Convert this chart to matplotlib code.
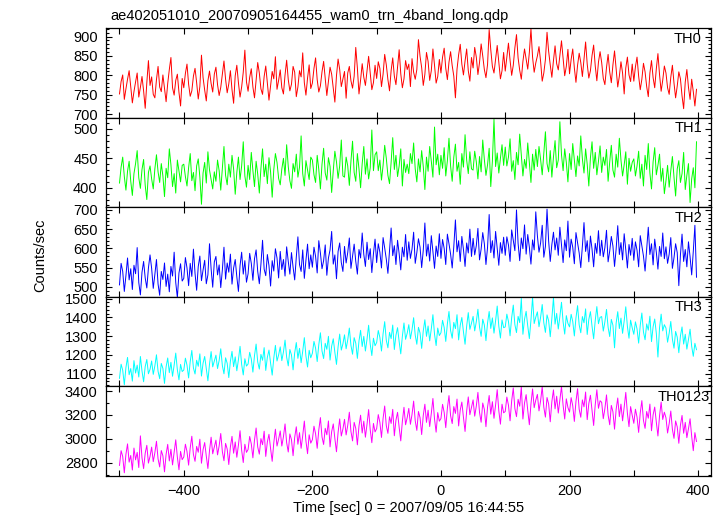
import numpy as np
import matplotlib
matplotlib.use("Agg")
import matplotlib.pyplot as plt
from matplotlib.ticker import MultipleLocator

plt.rcParams['font.family'] = ['Liberation Sans', 'DejaVu Sans']

# time bins [sec], 2.5 s wide
time = np.arange(-500, 400, 2.5)

# count rates (counts/sec), one row = 50 s
th0 = [752, 784, 801, 738, 765, 790, 812, 771, 729, 758, 783, 806, 744, 769, 797, 760, 715, 781, 838, 774,
       796, 751, 742, 789, 823, 770, 758, 801, 766, 732, 779, 815, 846, 768, 749, 787, 803, 756, 721, 792,
       768, 805, 829, 777, 746, 760, 798, 818, 781, 739, 771, 852, 794, 762, 734, 786, 811, 779, 757, 803,
       821, 776, 748, 769, 804, 837, 790, 755, 778, 812, 763, 728, 799, 826, 781, 744, 770, 808, 865, 783,
       759, 795, 817, 770, 742, 788, 833, 806, 765, 751, 797, 824, 779, 736, 772, 810, 791, 848, 764, 787,
       814, 768, 752, 801, 839, 789, 760, 777, 823, 808, 745, 770, 812, 796, 858, 781, 749, 793, 827, 766,
       780, 818, 845, 789, 757, 773, 809, 836, 792, 748, 784, 821, 803, 766, 731, 799, 842, 815, 771, 790,
       810, 741, 806, 823, 786, 767, 798, 872, 819, 752, 788, 830, 795, 774, 812, 849, 805, 763, 781, 826,
       792, 835, 818, 771, 803, 854, 827, 789, 760, 812, 845, 798, 776, 821, 866, 804, 768, 791, 838, 815,
       829, 771, 843, 808, 790, 815, 892, 849, 820, 774, 803, 859, 836, 787, 812, 868, 826, 780, 797, 841,
       806, 847, 870, 818, 789, 834, 861, 825, 798, 742, 816, 853, 880, 829, 801, 837, 868, 812, 785, 846,
       819, 872, 847, 802, 833, 881, 850, 815, 794, 828, 918, 866, 823, 806, 842, 877, 835, 791, 812, 859,
       811, 848, 883, 839, 800, 826, 871, 905, 845, 813, 790, 836, 868, 842, 816, 859, 920, 847, 808, 832,
       850, 874, 836, 785, 806, 841, 911, 862, 827, 795, 838, 876, 830, 814, 852, 889, 845, 799, 823, 867,
       804, 841, 868, 819, 782, 826, 857, 833, 797, 843, 886, 829, 793, 812, 851, 878, 824, 786, 834, 861,
       833, 792, 776, 820, 854, 809, 781, 827, 863, 815, 770, 798, 835, 806, 752, 819, 847, 801, 784, 829,
       785, 822, 847, 798, 763, 790, 831, 809, 771, 745, 806, 838, 794, 768, 817, 856, 802, 759, 788, 824,
       806, 768, 751, 795, 826, 780, 742, 772, 809, 791, 747, 714, 783, 815, 769, 738, 790, 758, 721, 764]

th1 = [408, 435, 452, 419, 396, 428, 445, 411, 387, 424, 441, 463, 417, 399, 431, 448, 404, 380, 426, 437,
       415, 398, 432, 456, 427, 409, 441, 420, 385, 433, 417, 466, 439, 402, 424, 391, 447, 429, 410, 438,
       440, 419, 403, 434, 458, 412, 426, 395, 437, 449, 418, 372, 425, 443, 408, 461, 430, 414, 398, 427,
       411, 447, 429, 396, 433, 470, 421, 405, 440, 418, 455, 432, 389, 426, 452, 414, 437, 478, 420, 401,
       438, 414, 460, 429, 402, 445, 423, 391, 433, 466, 419, 440, 407, 451, 427, 384, 431, 458, 443, 416,
       405, 432, 450, 421, 473, 436, 412, 399, 441, 427, 457, 418, 435, 488, 424, 403, 446, 430, 414, 452,
       447, 422, 409, 455, 431, 398, 440, 467, 425, 413, 451, 436, 392, 429, 462, 444, 416, 437, 481, 420,
       418, 452, 437, 404, 445, 479, 426, 411, 458, 432, 400, 441, 470, 423, 449, 415, 434, 498, 429, 456,
       461, 429, 447, 413, 438, 472, 450, 421, 407, 443, 485, 431, 455, 419, 437, 466, 403, 448, 426, 440,
       424, 458, 441, 476, 432, 410, 449, 427, 463, 436, 397, 452, 428, 470, 445, 418, 503, 439, 457, 422,
       455, 433, 468, 420, 446, 484, 437, 411, 452, 474, 428, 443, 406, 458, 435, 490, 447, 424, 461, 432,
       430, 462, 444, 415, 453, 427, 481, 448, 421, 439, 467, 402, 445, 516, 436, 459, 425, 450, 473, 438,
       469, 437, 452, 483, 428, 446, 414, 460, 439, 491, 455, 420, 448, 433, 476, 442, 409, 457, 430, 465,
       436, 470, 448, 422, 459, 495, 441, 427, 463, 418, 452, 480, 434, 447, 512, 456, 429, 466, 443, 410,
       458, 431, 475, 446, 419, 454, 437, 488, 449, 425, 466, 440, 403, 451, 478, 433, 460, 422, 445, 471,
       426, 452, 438, 465, 411, 444, 472, 430, 418, 457, 435, 484, 447, 420, 439, 461, 406, 450, 428, 443,
       449, 420, 437, 462, 416, 440, 403, 455, 431, 475, 425, 398, 444, 468, 422, 438, 457, 411, 433, 390,
       412, 438, 401, 429, 453, 418, 386, 432, 446, 409, 424, 460, 397, 421, 441, 375, 415, 434, 400, 478]

th2 = [505, 561, 540, 488, 529, 575, 518, 547, 493, 556, 534, 602, 511, 479, 538, 566, 523, 497, 549, 583,
       548, 496, 532, 571, 507, 478, 540, 519, 562, 501, 533, 487, 553, 528, 590, 511, 472, 536, 560, 515,
       522, 576, 549, 503, 561, 527, 598, 535, 491, 553, 580, 516, 544, 569, 508, 531, 612, 547, 499, 565,
       579, 531, 557, 498, 544, 603, 520, 562, 538, 585, 507, 549, 571, 526, 488, 555, 590, 533, 568, 512,
       534, 587, 561, 517, 573, 596, 540, 508, 559, 621, 546, 529, 584, 555, 502, 568, 541, 599, 575, 523,
       592, 545, 571, 528, 604, 566, 533, 589, 551, 518, 577, 630, 558, 540, 596, 522, 569, 611, 547, 583,
       551, 603, 579, 536, 620, 588, 547, 568, 609, 530, 575, 596, 644, 559, 583, 521, 592, 614, 563, 540,
       605, 562, 589, 627, 548, 580, 611, 566, 533, 597, 575, 640, 584, 553, 616, 571, 599, 537, 586, 624,
       563, 612, 590, 549, 628, 601, 572, 535, 594, 653, 581, 607, 558, 621, 586, 544, 603, 578, 636, 569,
       617, 574, 598, 642, 561, 589, 625, 603, 550, 595, 666, 580, 611, 567, 633, 592, 548, 606, 579, 638,
       574, 623, 600, 558, 637, 612, 585, 549, 605, 674, 591, 620, 566, 631, 597, 553, 614, 588, 650, 579,
       626, 583, 607, 652, 570, 598, 641, 612, 558, 603, 688, 589, 620, 575, 644, 601, 556, 615, 587, 629,
       582, 630, 609, 566, 648, 621, 594, 700, 613, 568, 627, 599, 661, 585, 636, 603, 559, 622, 596, 695,
       633, 590, 614, 660, 577, 605, 702, 619, 566, 610, 642, 596, 627, 582, 655, 608, 563, 622, 594, 671,
       577, 624, 603, 560, 641, 615, 588, 550, 606, 667, 592, 620, 565, 632, 598, 552, 613, 587, 646, 581,
       621, 578, 602, 647, 565, 593, 631, 606, 553, 598, 659, 584, 615, 570, 638, 596, 549, 610, 582, 626,
       569, 617, 595, 552, 633, 607, 580, 541, 598, 655, 584, 612, 557, 624, 590, 546, 605, 579, 640, 573,
       604, 561, 585, 628, 548, 576, 612, 589, 503, 583, 637, 566, 597, 552, 617, 578, 531, 592, 660, 525]

th3 = [1076, 1151, 1119, 1042, 1133, 1187, 1095, 1128, 1061, 1170, 1104, 1146, 1083, 1192, 1115, 1058, 1139, 1176, 1100, 1124,
       1168, 1097, 1142, 1201, 1113, 1074, 1155, 1129, 1049, 1137, 1184, 1106, 1161, 1087, 1146, 1210, 1121, 1068, 1150, 1112,
       1120, 1183, 1146, 1078, 1165, 1224, 1131, 1099, 1172, 1140, 1206, 1088, 1157, 1192, 1126, 1063, 1151, 1218, 1137, 1169,
       1199, 1128, 1171, 1233, 1144, 1100, 1185, 1156, 1080, 1167, 1219, 1138, 1190, 1116, 1175, 1246, 1150, 1094, 1180, 1141,
       1152, 1214, 1179, 1109, 1197, 1258, 1163, 1125, 1203, 1172, 1239, 1118, 1188, 1226, 1157, 1093, 1184, 1251, 1168, 1200,
       1243, 1170, 1216, 1279, 1188, 1142, 1229, 1200, 1121, 1211, 1266, 1182, 1235, 1159, 1220, 1292, 1194, 1136, 1225, 1185,
       1209, 1272, 1236, 1165, 1255, 1318, 1221, 1181, 1262, 1230, 1299, 1173, 1247, 1286, 1214, 1150, 1243, 1311, 1226, 1259,
       1307, 1233, 1280, 1343, 1251, 1204, 1292, 1263, 1182, 1274, 1331, 1245, 1299, 1221, 1284, 1358, 1257, 1197, 1289, 1249,
       1266, 1330, 1293, 1221, 1313, 1377, 1278, 1238, 1320, 1287, 1359, 1229, 1305, 1345, 1271, 1206, 1300, 1370, 1283, 1316,
       1361, 1286, 1334, 1398, 1305, 1257, 1347, 1317, 1235, 1328, 1387, 1299, 1354, 1275, 1339, 1414, 1311, 1250, 1343, 1303,
       1318, 1384, 1346, 1272, 1366, 1431, 1330, 1289, 1373, 1340, 1414, 1280, 1358, 1399, 1323, 1257, 1353, 1425, 1336, 1369,
       1405, 1328, 1377, 1443, 1348, 1299, 1390, 1359, 1276, 1370, 1431, 1341, 1397, 1316, 1382, 1460, 1353, 1290, 1386, 1345,
       1349, 1417, 1378, 1302, 1398, 1465, 1361, 1319, 1405, 1372, 1500, 1310, 1390, 1432, 1354, 1287, 1385, 1506, 1367, 1401,
       1429, 1350, 1400, 1468, 1371, 1320, 1413, 1382, 1297, 1393, 1505, 1364, 1421, 1338, 1405, 1480, 1376, 1311, 1409, 1368,
       1349, 1416, 1378, 1301, 1397, 1462, 1360, 1318, 1404, 1371, 1445, 1309, 1389, 1430, 1353, 1286, 1384, 1457, 1366, 1400,
       1404, 1327, 1376, 1442, 1347, 1298, 1389, 1358, 1238, 1369, 1430, 1340, 1396, 1315, 1381, 1456, 1352, 1289, 1385, 1344,
       1310, 1376, 1338, 1263, 1358, 1423, 1322, 1281, 1365, 1332, 1406, 1271, 1350, 1391, 1315, 1189, 1345, 1417, 1328, 1361,
       1343, 1268, 1316, 1378, 1284, 1236, 1325, 1295, 1212, 1301, 1349, 1258, 1310, 1231, 1282, 1337, 1246, 1193, 1262, 1228]

th0123 = [2778, 2901, 2852, 2716, 2870, 2958, 2805, 2861, 2739, 2923, 2824, 2887, 2760, 3025, 2841, 2751, 2880, 2946, 2797, 2853,
          2931, 2809, 2884, 2980, 2832, 2765, 2902, 2858, 2724, 2871, 2954, 2815, 2913, 2782, 2890, 2992, 2847, 2741, 2895, 2826,
          2848, 2955, 2893, 2780, 2924, 3022, 2869, 2812, 2937, 2888, 2997, 2796, 2910, 2969, 2856, 2752, 2901, 3014, 2875, 2932,
          2989, 2866, 2941, 3045, 2893, 2817, 2962, 2915, 2785, 2933, 3021, 2880, 2974, 2846, 2948, 3068, 2905, 2802, 2955, 2887,
          2911, 3020, 2958, 2841, 2990, 3091, 2932, 2872, 3002, 2951, 3064, 2853, 2975, 3038, 2919, 2812, 2967, 3081, 2940, 2997,
          3066, 2940, 3018, 3125, 2968, 2890, 3041, 2993, 2859, 3012, 3101, 2955, 3052, 2921, 3027, 3149, 2982, 2876, 3034, 2964,
          2993, 3106, 3043, 2921, 3075, 3178, 3016, 2953, 3088, 3034, 3150, 2933, 3060, 3125, 3002, 2892, 3053, 3167, 3024, 3082,
          3163, 3033, 3113, 3223, 3062, 2983, 3138, 3088, 2950, 3107, 3198, 3049, 3148, 3014, 3122, 3245, 3076, 2968, 3129, 3058,
          3086, 3203, 3138, 3012, 3171, 3275, 3110, 3046, 3185, 3129, 3247, 3026, 3156, 3222, 3096, 2983, 3148, 3264, 3118, 3178,
          3255, 3122, 3204, 3316, 3151, 3071, 3229, 3177, 3036, 3196, 3290, 3138, 3240, 3103, 3213, 3338, 3166, 3056, 3220, 3148,
          3170, 3289, 3222, 3094, 3257, 3362, 3194, 3128, 3270, 3213, 3333, 3108, 3241, 3308, 3180, 3062, 3232, 3351, 3202, 3263,
          3326, 3190, 3274, 3389, 3221, 3139, 3300, 3247, 3102, 3266, 3363, 3207, 3311, 3172, 3284, 3412, 3236, 3123, 3290, 3218,
          3229, 3350, 3282, 3151, 3318, 3426, 3253, 3186, 3331, 3273, 3436, 3166, 3301, 3370, 3239, 3118, 3292, 3418, 3261, 3324,
          3372, 3234, 3319, 3436, 3265, 3182, 3346, 3292, 3143, 3311, 3410, 3251, 3357, 3216, 3329, 3438, 3281, 3166, 3335, 3262,
          3224, 3345, 3277, 3146, 3313, 3420, 3248, 3181, 3326, 3268, 3392, 3161, 3296, 3365, 3234, 3112, 3287, 3411, 3256, 3319,
          3306, 3169, 3253, 3368, 3200, 3118, 3280, 3227, 3081, 3246, 3342, 3186, 3291, 3151, 3264, 3389, 3215, 3102, 3270, 3197,
          3130, 3248, 3182, 3054, 3217, 3320, 3154, 3088, 3229, 3173, 3291, 3068, 3201, 3266, 3140, 3024, 3192, 3308, 3162, 3223,
          3176, 3049, 3128, 3233, 3080, 3004, 3150, 3101, 2963, 3115, 3196, 3047, 3138, 3010, 3085, 3168, 3022, 2901, 3052, 2978]

bands = ['TH0', 'TH1', 'TH2', 'TH3', 'TH0123']
rates = [th0, th1, th2, th3, th0123]
colors = ['#ff0000', '#00ff00', '#0000ff', '#00ffff', '#ff00ff']
ylims = [(691, 922), (367, 519), (474, 707), (1033, 1509), (2689, 3439)]
major = [50, 50, 50, 100, 200]
minor = [10, 10, 10, 20, 100]

fig, axes = plt.subplots(5, 1, sharex=True, figsize=(7.24, 5.16), dpi=100)
fig.subplots_adjust(left=0.1464, right=0.982, top=0.9457, bottom=0.0775, hspace=0)

for i, ax in enumerate(axes):
    ax.plot(time, rates[i], color=colors[i], lw=0.7)
    ax.set_ylim(*ylims[i])
    ax.yaxis.set_major_locator(MultipleLocator(major[i]))
    ax.yaxis.set_minor_locator(MultipleLocator(minor[i]))
    ax.tick_params(which='both', direction='in', top=True, right=True, labelsize=10.5, pad=6)
    ax.tick_params(which='major', length=4.3, width=0.8)
    ax.tick_params(which='minor', length=2.2, width=0.8)
    for s in ax.spines.values():
        s.set_linewidth(0.9)
    xr = 0.998 if bands[i] == 'TH0123' else 0.985
    ax.text(xr, 0.96, bands[i], transform=ax.transAxes, ha='right', va='top', fontsize=10.5)

xt = list(range(-500, 401, 100))
axes[-1].set_xlim(-521, 420)
axes[-1].set_xticks(xt)
axes[-1].set_xticklabels(['' if t % 200 else str(t).replace('-', '\u2212') for t in xt])
axes[-1].set_xlabel('Time [sec] 0 = 2007/09/05 16:44:55', fontsize=10.5, labelpad=2)

fig.text(0.055, 0.506, 'Counts/sec', rotation=90, ha='center', va='center', fontsize=10.5)
fig.text(0.152, 0.962, 'ae402051010_20070905164455_wam0_trn_4band_long.qdp', ha='left', va='baseline', fontsize=10.5)

fig.savefig('out.png', dpi=100)
